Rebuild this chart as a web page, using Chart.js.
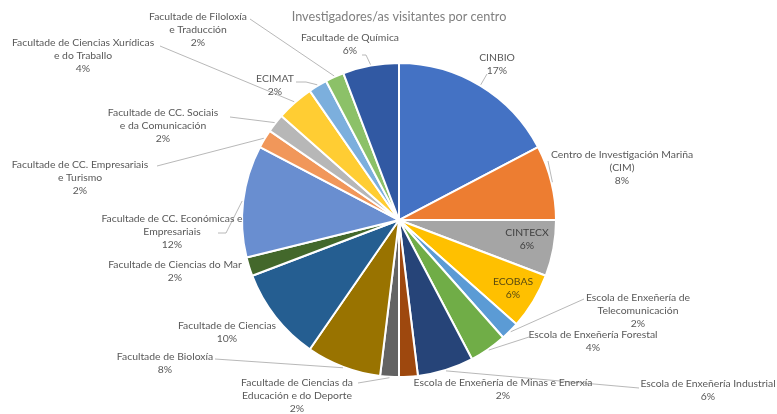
<!DOCTYPE html>
<html>
<head>
<meta charset="utf-8">
<script src="https://cdn.jsdelivr.net/npm/chart.js@4.4.1/dist/chart.umd.min.js"></script>
<style>
  html, body { margin: 0; padding: 0; background: #fff; }
  .wrap { width: 777px; height: 414px; }
</style>
</head>
<body>
<div class="wrap"><canvas class="chart"></canvas></div>
<script>
// datos
const centros = [
  'CINBIO',
  'Centro de Investigación Mariña\n(CIM)',
  'CINTECX',
  'ECOBAS',
  'Escola de Enxeñería de\nTelecomunicación',
  'Escola de Enxeñería Forestal',
  'Escola de Enxeñería Industrial',
  'Escola de Enxeñería de Minas e Enerxía',
  'Facultade de Ciencias da\nEducación e do Deporte',
  'Facultade de Bioloxía',
  'Facultade de Ciencias',
  'Facultade de Ciencias do Mar',
  'Facultade de CC. Económicas e\nEmpresariais',
  'Facultade de CC. Empresariais\ne Turismo',
  'Facultade de CC. Sociais\ne da Comunicación',
  'Facultade de Ciencias Xurídicas\ne do Traballo',
  'ECIMAT',
  'Facultade de Filoloxía\ne Traducción',
  'Facultade de Química'
];
const investigadores = [9, 4, 3, 3, 1, 2, 3, 1, 1, 4, 5, 1, 6, 1, 1, 2, 1, 1, 3];

const cores = [
  '#4472C4', '#ED7D31', '#A5A5A5', '#FFC000', '#5B9BD5', '#70AD47',
  '#264478', '#9E480E', '#636363', '#997300', '#255E91', '#43682B',
  '#698ED0', '#F1975A', '#B7B7B7', '#FFCD33', '#7CAFDD', '#8CC168',
  '#3159A3'
];

// posición das etiquetas (centro da primeira liña) e inicio da liña guía
const etiquetas = [
  { x: 497, y: 58, lx: 487, ly: 74 },
  { x: 622, y: 155, lx: 548, ly: 161 },
  { x: 527, y: 233, dentro: true },
  { x: 513, y: 282, dentro: true, cor: '#5a4a10' },
  { x: 638, y: 298, lx: 584, ly: 299 },
  { x: 593, y: 335, lx: 529, ly: 337 },
  { x: 708, y: 384, lx: 639, ly: 388 },
  { x: 503, y: 383 },
  { x: 297, y: 383, lx: 358, ly: 383 },
  { x: 165, y: 357, lx: 215, ly: 359 },
  { x: 227, y: 326 },
  { x: 175, y: 265 },
  { x: 172, y: 219, lx: 218, ly: 233, mx: 226, my: 233 },
  { x: 80, y: 165, lx: 157, ly: 166 },
  { x: 163, y: 113, lx: 230, ly: 117 },
  { x: 83, y: 43, lx: 160, ly: 46 },
  { x: 275, y: 79, lx: 296, ly: 82, mx: 306, my: 82 },
  { x: 198, y: 17, lx: 250, ly: 19 },
  { x: 350, y: 38, lx: 362, ly: 55, mx: 366, my: 55 }
];

const total = investigadores.reduce((a, b) => a + b, 0);

const etiquetasPlugin = {
  id: 'etiquetas',
  afterDatasetsDraw(chart) {
    const ctx = chart.ctx;
    const arcs = chart.getDatasetMeta(0).data;
    ctx.save();
    ctx.font = '10.4px Lato';
    ctx.textAlign = 'center';
    ctx.textBaseline = 'middle';
    arcs.forEach((arc, i) => {
      const e = etiquetas[i];
      const p = arc.getProps(['x', 'y', 'startAngle', 'endAngle', 'outerRadius'], true);
      const mid = (p.startAngle + p.endAngle) / 2;
      if (e.lx !== undefined) {
        const ax = p.x + Math.cos(mid) * (p.outerRadius + 1);
        const ay = p.y + Math.sin(mid) * (p.outerRadius + 1);
        ctx.strokeStyle = '#a6a6a6';
        ctx.lineWidth = 0.8;
        ctx.beginPath();
        ctx.moveTo(e.lx, e.ly);
        if (e.mx !== undefined) ctx.lineTo(e.mx, e.my);
        ctx.lineTo(ax, ay);
        ctx.stroke();
      }
      const linhas = centros[i].split('\n');
      linhas.push(Math.round(investigadores[i] / total * 100) + '%');
      ctx.fillStyle = e.cor || (e.dentro ? '#404040' : '#595959');
      linhas.forEach((t, k) => ctx.fillText(t, e.x, e.y + k * 12.6));
    });
    ctx.restore();
  }
};

const myCanvas = document.querySelector('.chart');
const myChart = new Chart(myCanvas, {
  type: 'pie',
  data: {
    labels: centros,
    datasets: [{
      data: investigadores,
      backgroundColor: cores,
      borderColor: '#ffffff',
      borderWidth: 2,
      radius: 157
    }]
  },
  options: {
    responsive: true,
    maintainAspectRatio: false,
    animation: false,
    layout: {
      padding: { left: 21, right: 0, top: 0, bottom: 37 }
    },
    plugins: {
      legend: { display: false },
      tooltip: { enabled: false },
      title: {
        display: true,
        text: 'Investigadores/as visitantes por centro',
        color: '#7f7f7f',
        font: { family: 'Lato', size: 12.7, weight: 'normal' },
        padding: { top: 9, bottom: 38.8 }
      }
    }
  },
  plugins: [etiquetasPlugin]
});
</script>
</body>
</html>
